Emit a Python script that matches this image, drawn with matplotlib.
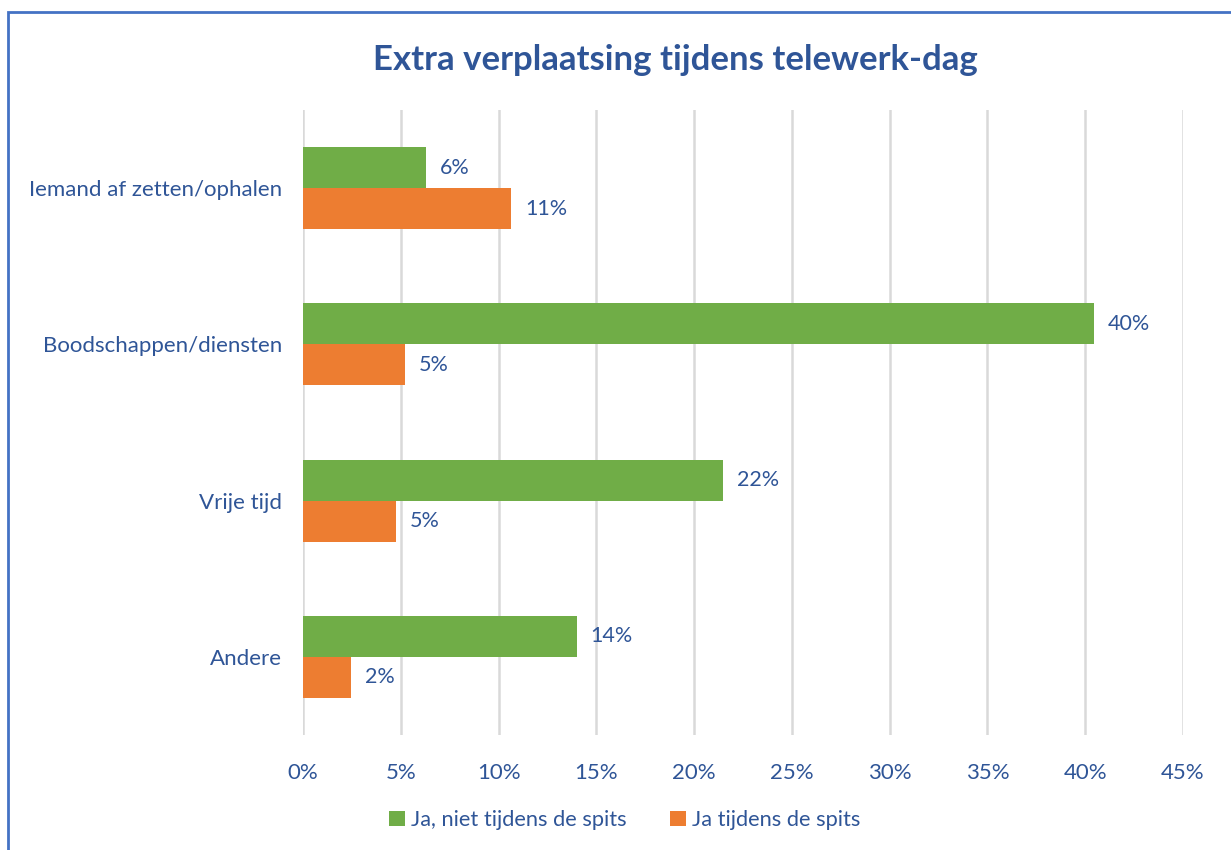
import numpy as np
import matplotlib.pyplot as plt
from matplotlib.patches import Rectangle

plt.rcParams['font.family'] = ['Lato', 'DejaVu Sans']

categories = ['Iemand af zetten/ophalen', 'Boodschappen/diensten', 'Vrije tijd', 'Andere']
niet_spits = [6.3, 40.45, 21.5, 14.0]
spits = [10.65, 5.2, 4.75, 2.45]
series_names = ['Ja, niet tijdens de spits', 'Ja tijdens de spits']

blue = '#2F5597'
green = '#70AD47'
orange = '#ED7D31'

fig = plt.figure(figsize=(12.31, 8.5), dpi=100)
ax = fig.add_axes([303/1231, 1-735/850, 880/1231, 625/850])

y = np.arange(len(categories))
h = 0.262
b1 = ax.barh(y - h/2, niet_spits, height=h, color=green, label=series_names[0], zorder=3)
b2 = ax.barh(y + h/2, spits, height=h, color=orange, label=series_names[1], zorder=3)

for bars, vals in [(b1, niet_spits), (b2, spits)]:
    for bar, v in zip(bars, vals):
        ax.text(v + 0.7, bar.get_y() + bar.get_height()/2, '{:.0f}%'.format(v),
                va='center', ha='left', fontsize=15.5, color=blue)

ax.set_xlim(0, 45)
ax.set_ylim(len(categories) - 0.5, -0.5)
ax.set_xticks(np.arange(0, 46, 5))
ax.set_xticklabels(['{}%'.format(t) for t in range(0, 46, 5)])
ax.set_yticks(y)
ax.set_yticklabels(categories)
ax.tick_params(axis='both', length=0, labelsize=16, labelcolor=blue)
ax.tick_params(axis='x', pad=20)
ax.tick_params(axis='y', pad=15)
ax.grid(axis='x', color='#D9D9D9', linewidth=1.8, zorder=0)
for s in ax.spines.values():
    s.set_visible(False)

fig.text(675/1231, 1-60/850, 'Extra verplaatsing tijdens telewerk-dag', ha='center', va='center',
         fontsize=25, fontweight='bold', color=blue)

leg = fig.legend(loc='center', bbox_to_anchor=(625/1231, 1-820/850), ncol=2, frameon=False,
                 fontsize=15.7, handlelength=0.7, handleheight=0.7, handletextpad=0.3,
                 columnspacing=2.0)
for t in leg.get_texts():
    t.set_color(blue)

fig.patches.append(Rectangle((8/1231, -0.1), 1.2, 1.1 - 12/850, transform=fig.transFigure,
                             fill=False, edgecolor='#4472C4', linewidth=2))

fig.savefig('out.png', dpi=100)
